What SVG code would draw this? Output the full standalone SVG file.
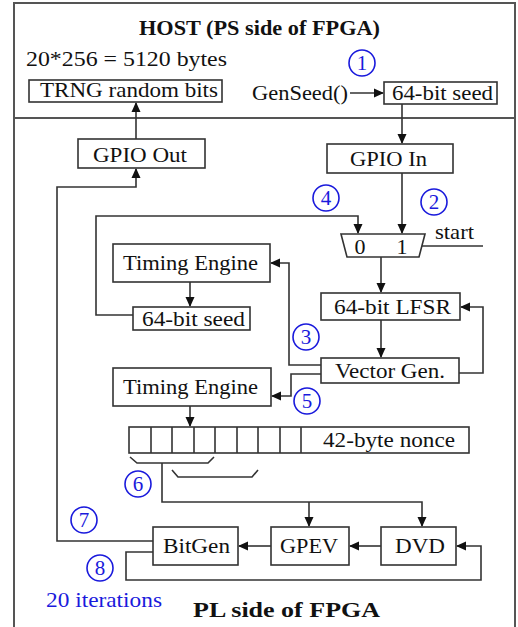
<svg xmlns="http://www.w3.org/2000/svg" width="518" height="627" viewBox="0 0 518 627" font-family="Liberation Serif, DejaVu Serif, serif">
<style>
.box{fill:#fff;stroke:#333;stroke-width:1.6}
.t{font-family:'Liberation Serif','DejaVu Serif',serif;font-size:22px;fill:#111}
.c{text-anchor:middle}
.b{font-weight:bold}
.w{fill:none;stroke:#333;stroke-width:1.6}
.a{marker-end:url(#ah)}
.num{fill:none;stroke:#1a1adc;stroke-width:1.6}
.nt{font-family:'Liberation Serif','DejaVu Serif',serif;font-size:21px;fill:#1a1adc;text-anchor:middle}
.frame{fill:none;stroke:#555;stroke-width:2}
</style>
<defs>
<marker id="ah" markerWidth="10" markerHeight="10" refX="9" refY="5" orient="auto" markerUnits="userSpaceOnUse">
<path d="M0,0.5 L10,5 L0,9.5 Z" fill="#111"/>
</marker>
</defs>
<rect width="518" height="627" fill="#fff"/>
<g id="frame">
<path class="frame" d="M14,627 V3 H515 V627"/>
<line class="frame" x1="14" y1="118" x2="515" y2="118"/>
</g>
<g id="titles">
<text class="t b" x="139" y="35" textLength="241" lengthAdjust="spacingAndGlyphs">HOST (PS side of FPGA)</text>
<text class="t" x="26" y="66" textLength="201" lengthAdjust="spacingAndGlyphs">20*256 = 5120 bytes</text>
<text class="t b" x="193" y="617" textLength="187" lengthAdjust="spacingAndGlyphs">PL side of FPGA</text>
<text class="nt" x="46" y="607" style="text-anchor:start" font-size="22" textLength="116" lengthAdjust="spacingAndGlyphs">20 iterations</text>
<text class="t" x="435" y="239" textLength="39" lengthAdjust="spacingAndGlyphs">start</text>
<text class="t" x="252" y="100" textLength="96" lengthAdjust="spacingAndGlyphs">GenSeed()</text>
</g>
<g id="connectors">
<path class="w a" d="M350,93 H383"/>
<path class="w a" d="M136,139 V103"/>
<path class="w a" d="M402,104 V143"/>
<path class="w a" d="M402,173 V233"/>
<path class="w a" d="M133,315 H96 V216 H358 V233"/>
<path class="w" d="M422,246 H483"/>
<path class="w a" d="M381,257 V292"/>
<path class="w a" d="M381,320 V357"/>
<path class="w a" d="M459,373 H483 V307 H461"/>
<path class="w a" d="M321,365 H289 V263 H271"/>
<path class="w a" d="M321,374 H291 V396 H272"/>
<path class="w a" d="M190,282 V306"/>
<path class="w a" d="M190,406 V426"/>
<path class="w" d="M130,457 L137,463 H208 L214,457"/>
<path class="w" d="M172,470 L178,477 H252 L258,470"/>
<path class="w a" d="M162,463 V502 H422 V526"/>
<path class="w a" d="M309,502 V526"/>
<path class="w a" d="M381,546 H350"/>
<path class="w a" d="M271,546 H239"/>
<path class="w a" d="M153,552 H126 V580 H481 V546 H457"/>
<path class="w a" d="M153,541 H57 V187 H136 V169"/>
</g>
<g id="trng">
<rect class="box" x="29" y="80" width="193" height="22"/>
<text class="t" x="40" y="97" textLength="178" lengthAdjust="spacingAndGlyphs">TRNG random bits</text>
</g>
<g id="seed-host">
<rect class="box" x="384" y="82" width="113" height="22"/>
<text class="t" x="392" y="100" textLength="101" lengthAdjust="spacingAndGlyphs">64-bit seed</text>
</g>
<g id="gpio-out">
<rect class="box" x="78" y="139" width="127" height="29"/>
<text class="t" x="93" y="162" textLength="94" lengthAdjust="spacingAndGlyphs">GPIO Out</text>
</g>
<g id="gpio-in">
<rect class="box" x="327" y="144" width="126" height="29"/>
<text class="t" x="350" y="166" textLength="77" lengthAdjust="spacingAndGlyphs">GPIO In</text>
</g>
<g id="mux">
<polygon class="box" points="341,234 425,234 419,257 347,257"/>
<text class="t c" x="360" y="254">0</text>
<text class="t c" x="402" y="254">1</text>
</g>
<g id="lfsr">
<rect class="box" x="321" y="293" width="139" height="27"/>
<text class="t" x="334" y="314" textLength="117" lengthAdjust="spacingAndGlyphs">64-bit LFSR</text>
</g>
<g id="vector-gen">
<rect class="box" x="321" y="358" width="138" height="25"/>
<text class="t" x="335" y="378" textLength="110" lengthAdjust="spacingAndGlyphs">Vector Gen.</text>
</g>
<g id="timing-engine-1">
<rect class="box" x="113" y="244" width="157" height="38"/>
<text class="t" x="123" y="270" textLength="135" lengthAdjust="spacingAndGlyphs">Timing Engine</text>
</g>
<g id="seed-pl">
<rect class="box" x="133" y="307" width="117" height="23"/>
<text class="t" x="142" y="326" textLength="103" lengthAdjust="spacingAndGlyphs">64-bit seed</text>
</g>
<g id="timing-engine-2">
<rect class="box" x="113" y="368" width="158" height="38"/>
<text class="t" x="123" y="394" textLength="135" lengthAdjust="spacingAndGlyphs">Timing Engine</text>
</g>
<g id="nonce">
<rect class="box" x="129" y="427" width="340" height="26"/>
<path class="w" d="M151,427 V453 M172,427 V453 M194,427 V453 M215,427 V453 M237,427 V453 M258,427 V453 M280,427 V453 M301,427 V453"/>
<text class="t" x="323" y="447" textLength="132" lengthAdjust="spacingAndGlyphs">42-byte nonce</text>
</g>
<g id="bitgen">
<rect class="box" x="153" y="527" width="85" height="38"/>
<text class="t" x="163" y="553" textLength="67" lengthAdjust="spacingAndGlyphs">BitGen</text>
</g>
<g id="gpev">
<rect class="box" x="271" y="527" width="78" height="38"/>
<text class="t" x="280" y="553" textLength="58" lengthAdjust="spacingAndGlyphs">GPEV</text>
</g>
<g id="dvd">
<rect class="box" x="381" y="527" width="75" height="38"/>
<text class="t" x="395" y="553" textLength="50" lengthAdjust="spacingAndGlyphs">DVD</text>
</g>
<g id="steps">
<circle class="num" cx="362" cy="63" r="13"/><text class="nt" x="362" y="70">1</text>
<circle class="num" cx="434" cy="202" r="13"/><text class="nt" x="434" y="209">2</text>
<circle class="num" cx="306" cy="337" r="13"/><text class="nt" x="306" y="344">3</text>
<circle class="num" cx="326" cy="198" r="13"/><text class="nt" x="326" y="205">4</text>
<circle class="num" cx="307" cy="401" r="13"/><text class="nt" x="307" y="408">5</text>
<circle class="num" cx="138" cy="484" r="13"/><text class="nt" x="138" y="491">6</text>
<circle class="num" cx="84" cy="520" r="13"/><text class="nt" x="84" y="527">7</text>
<circle class="num" cx="100" cy="568" r="13"/><text class="nt" x="100" y="575">8</text>
</g>
</svg>
